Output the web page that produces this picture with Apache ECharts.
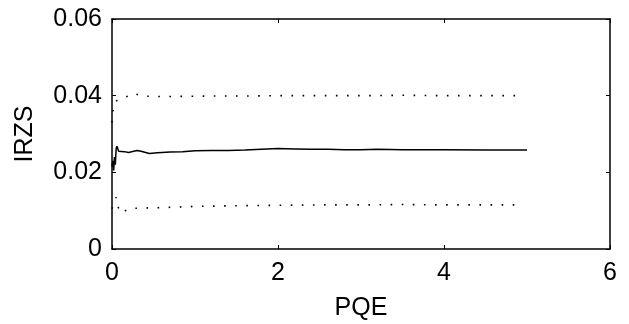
<!DOCTYPE html>
<html>
<head>
<meta charset="utf-8">
<script src="https://cdn.jsdelivr.net/npm/echarts@6/dist/echarts.min.js"></script>
<style>html,body{margin:0;padding:0;background:#fff}#c{width:629px;height:324px}</style>
</head>
<body>
<div id="c"></div>
<script>
var xTicks = [0, 2, 4, 6];
var yTicks = [0, 0.02, 0.04, 0.06];
var meanX = [0,0.01,0.02,0.03,0.04,0.05,0.06,0.08,0.1,0.15,0.2,0.3,0.35,0.45,0.55,0.7,0.85,1.0,1.2,1.4,1.6,1.8,2.0,2.2,2.4,2.6,2.8,3.0,3.2,3.5,4.0,4.5,5.0];
var meanY = [0.0215,0.023,0.0205,0.024,0.022,0.0262,0.0268,0.0255,0.0252,0.0254,0.0252,0.0257,0.0255,0.0249,0.0251,0.0253,0.0254,0.0256,0.0257,0.0257,0.0258,0.0260,0.0262,0.0261,0.0260,0.0260,0.0259,0.0259,0.0260,0.0259,0.0259,0.0258,0.0258];
var upperX = [0,0.01,0.02,0.04,0.06,0.1,0.15,0.2,0.27,0.35,0.5,0.8,1.2,1.6,2.0,2.5,3.0,3.5,4.0,4.5,4.9];
var upperY = [0.033,0.0357,0.0368,0.0385,0.0389,0.0392,0.0396,0.0399,0.0406,0.0399,0.0398,0.0398,0.0399,0.0399,0.0400,0.0400,0.0400,0.0401,0.0400,0.0400,0.0400];
var lowerX = [0,0.02,0.05,0.07,0.1,0.13,0.17,0.25,0.4,0.6,1.0,1.5,2.0,2.5,3.0,3.5,4.0,4.5,4.9];
var lowerY = [0.0105,0.0108,0.0135,0.0110,0.0100,0.0093,0.0102,0.0106,0.0107,0.0108,0.0111,0.0113,0.0114,0.0115,0.0115,0.0116,0.0115,0.0115,0.0115];

function pairs(xs, ys){ return xs.map(function(x,i){return [x, ys[i]];}); }
var font = 'Liberation Sans, Arial, Helvetica, sans-serif';
var chart = echarts.init(document.getElementById('c'), null, {renderer:'canvas'});
var axisLine = {show:true, onZero:false, lineStyle:{color:'#000', width:1.5}};
var tick = {show:true, inside:true, length:4, lineStyle:{color:'#000', width:1}};
chart.setOption({
  animation:false,
  backgroundColor:'#fff',
  grid:{left:112, right:19, top:19, bottom:75, containLabel:false, outerBoundsMode:'none'},
  xAxis:[{
    type:'value', min:xTicks[0], max:xTicks[xTicks.length-1], interval:2, position:'bottom',
    axisLine:axisLine, axisTick:tick, splitLine:{show:false},
    axisLabel:{color:'#000', fontSize:25, fontFamily:font, margin:12},
    name:'PQE', nameLocation:'middle', nameGap:47,
    nameTextStyle:{color:'#000', fontSize:25, fontFamily:font}
  },{
    type:'value', min:0, max:6, interval:2, position:'top',
    axisLine:axisLine, axisTick:tick, splitLine:{show:false}, axisLabel:{show:false}
  }],
  yAxis:[{
    type:'value', min:yTicks[0], max:yTicks[yTicks.length-1], interval:0.02, position:'left',
    axisLine:axisLine, axisTick:tick, splitLine:{show:false},
    axisLabel:{color:'#000', fontSize:25, fontFamily:font, margin:10,
      formatter:function(v){ return v===0 ? '0' : v.toFixed(2); }},
    name:'IRZS', nameLocation:'middle', nameGap:74,
    nameTextStyle:{color:'#000', fontSize:25, fontFamily:font}
  },{
    type:'value', min:0, max:0.06, interval:0.02, position:'right',
    axisLine:axisLine, axisTick:tick, splitLine:{show:false}, axisLabel:{show:false}
  }],
  series:[
    {type:'line', data:pairs(meanX, meanY), showSymbol:false, lineStyle:{color:'#000', width:1.5}},
    {type:'line', data:pairs(upperX, upperY), showSymbol:false, lineStyle:{color:'#000', width:1.6, type:[1.6,9.5]}},
    {type:'line', data:pairs(lowerX, lowerY), showSymbol:false, lineStyle:{color:'#000', width:1.6, type:[1.6,9.5]}}
  ]
});
</script>
</body>
</html>
